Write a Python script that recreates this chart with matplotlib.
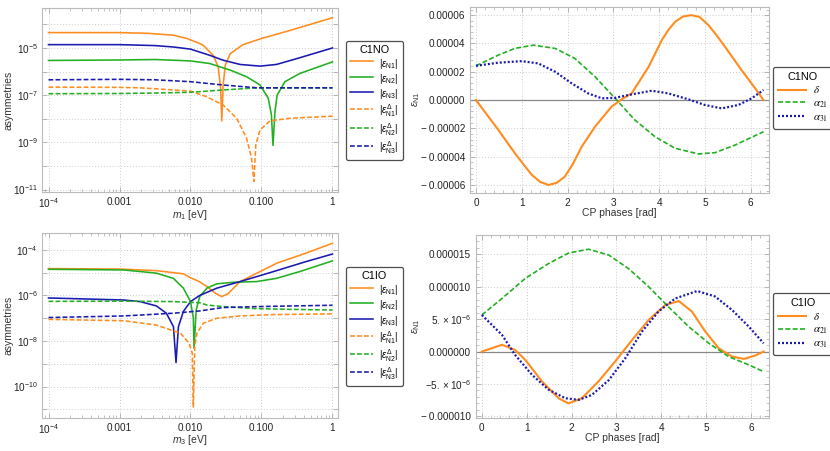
import numpy as np
import matplotlib
matplotlib.use("Agg")
import matplotlib.pyplot as plt
from matplotlib.ticker import FixedLocator, LogLocator, NullFormatter, FuncFormatter, MultipleLocator
from matplotlib.font_manager import FontProperties

plt.rcParams['font.family'] = ['Liberation Sans', 'DejaVu Sans']
plt.rcParams['mathtext.fontset'] = 'custom'
plt.rcParams['mathtext.rm'] = 'Liberation Sans'
plt.rcParams['mathtext.it'] = 'Liberation Sans:italic'
plt.rcParams['mathtext.bf'] = 'Liberation Sans:bold'

ORANGE = '#FF8C1E'
GREEN = '#22B022'
BLUE = '#1A1AB0'

# ---- C1NO, asymmetries vs m1 (log10 values) ----
no_n1_x = [-4.0, -3.0, -2.6, -2.24, -2.05, -1.87, -1.82, -1.68, -1.61, -1.575, -1.56, -1.54, -1.51, -1.44, -1.26, -1.0, -0.6, 0.0]
no_n1_y = [-4.35, -4.35, -4.38, -4.46, -4.60, -4.81, -4.89, -5.31, -5.80, -6.71, -8.09, -6.57, -5.73, -5.24, -4.86, -4.60, -4.26, -3.72]
no_n2_x = [-4.0, -3.0, -2.5, -2.0, -1.73, -1.44, -1.21, -1.02, -0.905, -0.86, -0.838, -0.81, -0.78, -0.67, -0.46, 0.0]
no_n2_y = [-5.53, -5.51, -5.49, -5.55, -5.66, -5.94, -6.22, -6.57, -7.13, -7.84, -9.13, -7.70, -7.0, -6.43, -6.08, -5.59]
no_n3_x = [-4.0, -3.0, -2.5, -2.24, -2.0, -1.73, -1.54, -1.30, -1.02, -0.79, -0.50, 0.0]
no_n3_y = [-4.86, -4.86, -4.90, -4.96, -5.05, -5.31, -5.52, -5.70, -5.77, -5.70, -5.45, -5.0]
no_h1_x = [-4.0, -3.0, -2.71, -2.24, -2.0, -1.77, -1.54, -1.35, -1.21, -1.14, -1.107, -1.08, -1.02, -0.88, -0.60, 0.0]
no_h1_y = [-6.66, -6.67, -6.69, -6.78, -6.83, -7.07, -7.42, -7.98, -8.82, -9.67, -10.65, -9.1, -8.47, -8.09, -7.98, -7.89]
no_h2_x = [-4.0, -3.0, -2.5, -2.0, -1.54, -1.06, -0.5, 0.0]
no_h2_y = [-6.94, -6.93, -6.91, -6.88, -6.78, -6.69, -6.69, -6.69]
no_h3_x = [-4.0, -3.0, -2.5, -2.0, -1.54, -1.06, -0.5, 0.0]
no_h3_y = [-6.35, -6.33, -6.35, -6.43, -6.57, -6.69, -6.69, -6.69]

# ---- C1IO, asymmetries vs m3 ----
io_n1_x = [-4.0, -3.0, -2.48, -2.1, -2.0, -1.87, -1.75, -1.65, -1.56, -1.47, -1.40, -1.30, -1.07, -0.79, -0.41, 0.0]
io_n1_y = [-4.82, -4.84, -4.91, -5.05, -5.22, -5.40, -5.65, -5.90, -6.05, -5.92, -5.70, -5.39, -5.03, -4.59, -4.18, -3.71]
io_n2_x = [-4.0, -2.94, -2.48, -2.24, -2.10, -2.0, -1.96, -1.95, -1.92, -1.87, -1.77, -1.63, -1.40, -1.07, -0.79, -0.46, 0.0]
io_n2_y = [-4.85, -4.88, -5.02, -5.25, -5.68, -6.27, -6.99, -8.32, -6.64, -6.05, -5.68, -5.49, -5.42, -5.39, -5.25, -4.95, -4.48]
io_n3_x = [-4.0, -2.94, -2.71, -2.48, -2.34, -2.24, -2.204, -2.17, -2.10, -2.0, -1.87, -1.63, -1.30, -0.83, -0.37, 0.0]
io_n3_y = [-6.11, -6.20, -6.27, -6.46, -6.78, -7.37, -8.95, -7.37, -6.70, -6.27, -6.0, -5.68, -5.39, -4.95, -4.51, -4.18]
io_h1_x = [-4.0, -2.94, -2.48, -2.14, -2.02, -1.975, -1.96, -1.94, -1.91, -1.82, -1.63, -1.30, -0.83, 0.0]
io_h1_y = [-7.05, -7.11, -7.30, -7.66, -8.10, -8.54, -10.9, -8.25, -7.66, -7.22, -7.0, -6.90, -6.84, -6.81]
io_h2_x = [-4.0, -2.94, -2.24, -1.87, -1.77, -1.54, -1.07, -0.60, 0.0]
io_h2_y = [-6.26, -6.25, -6.27, -6.32, -6.42, -6.49, -6.58, -6.61, -6.64]
io_h3_x = [-4.0, -2.94, -2.24, -1.87, -1.54, -1.07, 0.0]
io_h3_y = [-6.97, -6.90, -6.78, -6.68, -6.53, -6.49, -6.43]

# ---- C1NO, eps_N1 vs CP phases (units of 1e-6) ----
no_delta_x = [0.0, 0.49, 0.85, 1.05, 1.22, 1.40, 1.58, 1.76, 1.94, 2.12, 2.31, 2.60, 2.96, 3.18, 3.40, 3.77, 4.06, 4.20, 4.35, 4.52, 4.70, 4.88, 5.08, 5.25, 5.44, 5.80, 6.10, 6.28]
no_delta_y = [0.0, -21.2, -37.6, -46.0, -52.9, -57.8, -60.0, -58.6, -54.1, -45.0, -32.9, -18.8, -4.7, 0.5, 4.7, 23.5, 42.4, 49.5, 55.3, 59.0, 60.0, 58.8, 52.9, 46.0, 37.6, 21.2, 8.2, 0.0]
no_a21_x = [0.0, 0.49, 0.85, 1.25, 1.73, 2.16, 2.60, 3.04, 3.47, 3.91, 4.35, 4.86, 5.22, 5.66, 6.28]
no_a21_y = [24.2, 31.8, 36.5, 38.8, 36.5, 29.4, 16.5, 1.2, -14.1, -25.9, -34.1, -38.1, -37.2, -31.8, -22.4]
no_a31_x = [0.0, 0.49, 1.0, 1.36, 1.73, 2.09, 2.45, 2.75, 3.04, 3.40, 3.84, 4.20, 4.64, 5.0, 5.37, 5.73, 6.02, 6.28]
no_a31_y = [24.2, 26.4, 27.5, 25.9, 20.0, 11.8, 4.7, 1.2, 1.6, 4.0, 6.6, 4.7, 0.5, -3.5, -5.9, -3.5, 1.2, 7.1]

# ---- C1IO, eps_N1 vs CP phases (units of 1e-6) ----
io_delta_x = [0.0, 0.45, 0.74, 0.97, 1.34, 1.71, 1.93, 2.23, 2.60, 2.97, 3.35, 3.72, 4.09, 4.39, 4.68, 4.98, 5.28, 5.58, 5.84, 6.10, 6.28]
io_delta_y = [0.0, 1.05, 0.26, -1.3, -4.6, -7.2, -8.0, -7.2, -4.6, -1.54, 1.8, 4.9, 7.2, 7.8, 6.2, 3.1, 0.5, -0.77, -1.13, -0.6, 0.0]
io_a21_x = [0.0, 0.45, 0.97, 1.49, 1.93, 2.38, 2.83, 3.27, 3.72, 4.16, 4.61, 5.06, 5.50, 5.95, 6.28]
io_a21_y = [5.65, 8.2, 11.3, 13.6, 15.2, 15.8, 14.9, 12.8, 10.0, 6.9, 3.85, 1.28, -0.77, -2.05, -3.1]
io_a31_x = [0.0, 0.45, 0.74, 1.12, 1.49, 1.86, 2.16, 2.45, 2.83, 3.20, 3.57, 3.94, 4.31, 4.80, 5.20, 5.58, 5.95, 6.28]
io_a31_y = [5.65, 2.57, -0.5, -3.6, -5.9, -7.2, -7.45, -6.7, -4.4, -1.0, 3.1, 6.2, 8.2, 9.35, 8.5, 6.4, 3.85, 1.28]

log_labels = ['$10^{-4}$', '0.001', '0.010', '0.100', '1']

DASH = (0, (3.0, 1.4))
DOT = (0, (0.9, 0.9))
LABEL_KW = dict(fontsize=7.5, color='#333333')


def style_axes(ax):
    for s in ax.spines.values():
        s.set_color('#BBBBBB')
        s.set_linewidth(0.8)
    ax.tick_params(which='both', direction='in', top=True, right=True,
                   colors='#AAAAAA', labelcolor='#222222', labelsize=7.2)
    ax.tick_params(which='major', length=3.5, width=0.6)
    ax.tick_params(which='minor', length=2, width=0.5)
    ax.grid(True, which='major', color='#CCCCCC', linestyle=(0, (1, 2)), linewidth=0.7)


def log_panel(ax, curves, xlabel, ylim, labeled_exps, title, leg_top, xlab_y):
    for (x, y), color, ls in curves:
        ax.plot(10 ** np.array(x), 10 ** np.array(y), color=color, linestyle=ls, lw=1.15)
    ax.set_xscale('log')
    ax.set_yscale('log')
    ax.set_xlim(10 ** -4.087, 10 ** 0.082)
    ax.set_ylim(ylim)
    ax.xaxis.set_major_locator(FixedLocator([1e-4, 1e-3, 1e-2, 1e-1, 1]))
    ax.xaxis.set_major_formatter(FuncFormatter(lambda v, p: log_labels[int(round(np.log10(v))) + 4]))
    ax.xaxis.set_minor_locator(LogLocator(base=10, subs=np.arange(2, 10), numticks=20))
    ax.xaxis.set_minor_formatter(NullFormatter())
    ax.yaxis.set_major_locator(FixedLocator([10.0 ** e for e in range(-12, -2)]))
    ax.yaxis.set_major_formatter(FuncFormatter(
        lambda v, p: '$10^{%d}$' % int(round(np.log10(v))) if int(round(np.log10(v))) in labeled_exps else ''))
    ax.yaxis.set_minor_locator(FixedLocator([]))
    style_axes(ax)
    ax.set_xlabel(xlabel, **LABEL_KW)
    ax.set_ylabel('asymmetries', **LABEL_KW)
    ax.yaxis.set_label_coords(-0.097, 0.5)
    ax.xaxis.set_label_coords(0.5, xlab_y)
    labels = [r'$|\epsilon_{\mathrm{N1}}|$', r'$|\epsilon_{\mathrm{N2}}|$', r'$|\epsilon_{\mathrm{N3}}|$',
              r'$|\epsilon^{\Delta}_{\mathrm{N1}}|$', r'$|\epsilon^{\Delta}_{\mathrm{N2}}|$', r'$|\epsilon^{\Delta}_{\mathrm{N3}}|$']
    leg = ax.legend(ax.lines, labels, loc='upper left', bbox_to_anchor=(1.025, leg_top),
                    title=title, fontsize=7, title_fontsize=7.8, frameon=True, fancybox=True,
                    edgecolor='#222222', handlelength=2.4, handleheight=1.8, labelspacing=0.14,
                    borderpad=0.45, handletextpad=0.6, borderaxespad=0)
    leg.get_frame().set_linewidth(0.9)


def phase_panel(ax, curves, ylim, yticks, ylabels, title, leg_top, ylab_x, xlab_y):
    ax.axhline(0, color='#888888', lw=0.9)
    for (x, y), color, ls, lw in curves:
        ax.plot(x, np.array(y) * 1e-6, color=color, linestyle=ls, lw=lw)
    ax.set_xlim(-0.13, 6.40)
    ax.set_ylim(ylim)
    ax.xaxis.set_major_locator(MultipleLocator(1))
    ax.xaxis.set_minor_locator(MultipleLocator(0.2))
    ax.set_yticks(yticks, ylabels)
    step = yticks[1] - yticks[0]
    ax.yaxis.set_minor_locator(MultipleLocator(step / 5))
    style_axes(ax)
    ax.set_xlabel('CP phases [rad]', **LABEL_KW)
    ax.xaxis.set_label_coords(0.5, xlab_y)
    ax.set_ylabel(r'$\epsilon_{\mathrm{N1}}$', **LABEL_KW)
    ax.yaxis.set_label_coords(ylab_x, 0.5)
    prop = FontProperties(family='Liberation Sans', size=7.8, math_fontfamily='stix')
    leg = ax.legend(ax.lines[1:], [r'$\delta$', r'$\alpha_{21}$', r'$\alpha_{31}$'], loc='upper left',
                    bbox_to_anchor=(1.014, leg_top), title=title, prop=prop, title_fontsize=7.8,
                    frameon=True, fancybox=True, edgecolor='#222222', handlelength=2.6,
                    labelspacing=0.25, borderpad=0.45, handletextpad=0.6, borderaxespad=0)
    leg.get_frame().set_linewidth(0.9)


fig = plt.figure(figsize=(8.3, 4.51), dpi=100)
ax1 = fig.add_axes([0.051, 0.575, 0.3566, 0.4066])
ax2 = fig.add_axes([0.5663, 0.5727, 0.3602, 0.4125])
ax3 = fig.add_axes([0.051, 0.0738, 0.3566, 0.4089])
ax4 = fig.add_axes([0.5735, 0.0725, 0.3530, 0.4065])

log_panel(ax1, [((no_n1_x, no_n1_y), ORANGE, '-'), ((no_n2_x, no_n2_y), GREEN, '-'),
                ((no_n3_x, no_n3_y), BLUE, '-'), ((no_h1_x, no_h1_y), ORANGE, DASH),
                ((no_h2_x, no_h2_y), GREEN, DASH), ((no_h3_x, no_h3_y), BLUE, DASH)],
          '$m_1$ [eV]', (10 ** -11.09, 10 ** -3.32), [-5, -7, -9, -11], 'C1NO', 0.823, -0.088)

log_panel(ax3, [((io_n1_x, io_n1_y), ORANGE, '-'), ((io_n2_x, io_n2_y), GREEN, '-'),
                ((io_n3_x, io_n3_y), BLUE, '-'), ((io_h1_x, io_h1_y), ORANGE, DASH),
                ((io_h2_x, io_h2_y), GREEN, DASH), ((io_h3_x, io_h3_y), BLUE, DASH)],
          '$m_3$ [eV]', (10 ** -11.37, 10 ** -3.27), [-4, -6, -8, -10], 'C1IO', 0.817, -0.083)

MINUS = '\u2212\u2009'
no_ticks = [-6e-5, -4e-5, -2e-5, 0, 2e-5, 4e-5, 6e-5]
no_ticklabels = [MINUS + '0.00006', MINUS + '0.00004', MINUS + '0.00002', '0.00000', '0.00002', '0.00004', '0.00006']
phase_panel(ax2, [((no_delta_x, no_delta_y), ORANGE, '-', 1.5), ((no_a21_x, no_a21_y), GREEN, DASH, 1.2),
                  ((no_a31_x, no_a31_y), BLUE, DOT, 1.6)],
            (-6.55e-5, 6.6e-5), no_ticks, no_ticklabels, 'C1NO', 0.677, -0.16, -0.082)

io_ticks = [-1e-5, -5e-6, 0, 5e-6, 1e-5, 1.5e-5]
io_ticklabels = [MINUS + '0.000010', r'$-5.\times10^{-6}$', '0.000000', r'$5.\times10^{-6}$', '0.000010', '0.000015']
phase_panel(ax4, [((io_delta_x, io_delta_y), ORANGE, '-', 1.5), ((io_a21_x, io_a21_y), GREEN, DASH, 1.2),
                  ((io_a31_x, io_a31_y), BLUE, DOT, 1.6)],
            (-1.03e-5, 1.8e-5), io_ticks, io_ticklabels, 'C1IO', 0.683, -0.185, -0.08)

fig.savefig('out.png', dpi=100)
